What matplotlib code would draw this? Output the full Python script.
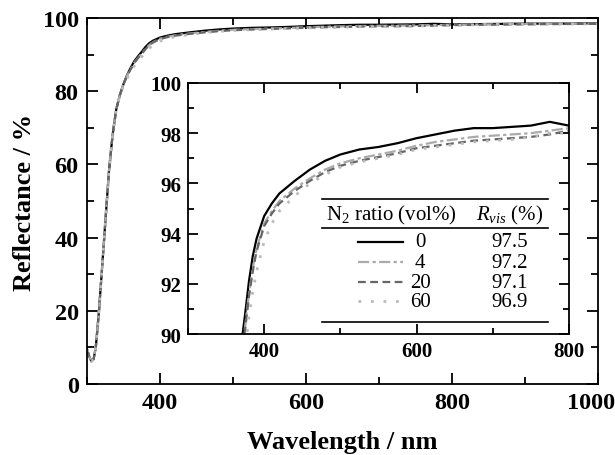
import matplotlib
matplotlib.use("Agg")
import matplotlib.pyplot as plt
from matplotlib.ticker import MultipleLocator

plt.rcParams["font.family"] = ["Liberation Serif", "DejaVu Serif"]
plt.rcParams["font.weight"] = "bold"
plt.rcParams["mathtext.fontset"] = "custom"
plt.rcParams["mathtext.rm"] = "Liberation Serif:normal"
plt.rcParams["mathtext.it"] = "Liberation Serif:italic:normal"

# wavelength grid (nm) and reflectance (%) for each N2 ratio
wavelength = [300, 303, 306, 309, 312, 316, 320, 325, 330, 335, 340, 345, 350, 355,
              360, 365, 370, 375, 380, 385, 390, 400, 410, 420, 440, 460, 480, 500,
              525, 550, 575, 600, 625, 650, 675, 700, 725, 750, 775, 800, 850, 900,
              950, 1000]
refl_0 = [9.5, 7.5, 6.2, 6.8, 10, 19, 30, 44, 58, 68, 75, 79, 82, 84.5,
          86.5, 88.3, 89.6, 90.8, 92.1, 93.1, 93.8, 94.7, 95.2, 95.6, 96.1, 96.55, 96.9, 97.15,
          97.35, 97.45, 97.6, 97.8, 97.95, 98.1, 98.2, 98.2, 98.25, 98.3, 98.45, 98.3, 98.4, 98.5,
          98.5, 98.6]
refl_4 = [9.5, 7.5, 6.2, 6.8, 10, 19, 30, 44, 58, 68, 75, 79, 82, 84.3,
          86.2, 87.9, 89.2, 90.3, 91.6, 92.6, 93.4, 94.4, 94.9, 95.3, 95.8, 96.2, 96.55, 96.8,
          97.0, 97.15, 97.3, 97.5, 97.65, 97.75, 97.85, 97.9, 97.95, 98.0, 98.1, 98.2, 98.3, 98.4,
          98.45, 98.5]
refl_20 = [9.5, 7.5, 6.2, 6.8, 10, 19, 30, 44, 58, 68, 75, 79, 82, 84.2,
           86.1, 87.8, 89.1, 90.2, 91.5, 92.5, 93.3, 94.3, 94.8, 95.2, 95.7, 96.1, 96.45, 96.7,
           96.9, 97.05, 97.2, 97.4, 97.5, 97.6, 97.7, 97.75, 97.8, 97.85, 97.95, 98.1, 98.2, 98.3,
           98.4, 98.45]
refl_60 = [9.5, 7.5, 6.2, 6.8, 10, 19, 30, 44, 58, 68, 75, 79, 81.5, 83.5,
           85.5, 87.0, 88.3, 89.4, 90.7, 91.7, 92.5, 93.7, 94.4, 94.9, 95.5, 96.0, 96.35, 96.65,
           96.85, 97.0, 97.15, 97.35, 97.45, 97.55, 97.65, 97.7, 97.75, 97.85, 98.0, 98.0, 98.3, 98.35,
           98.4, 98.4]

n2_ratio = ["0", "4", "20", "60"]
r_vis = ["97.5", "97.2", "97.1", "96.9"]
main_xticks = [400, 600, 800, 1000]

series = [refl_0, refl_4, refl_20, refl_60]
styles = [
    dict(color="black", linestyle="-", linewidth=1.6),
    dict(color="#aaaaaa", linestyle=(0, (5, 1.5, 1.5, 1.5)), linewidth=1.6),
    dict(color="#666666", linestyle=(0, (3.5, 2)), linewidth=1.6),
    dict(color="#bbbbbb", linestyle=(0, (1, 3.5)), linewidth=2.0),
]

fig = plt.figure(figsize=(6.15, 4.56), dpi=100)
ax = fig.add_axes([0.1415, 0.1557, 0.8305, 0.8023])

for y, st in zip(series, styles):
    ax.plot(wavelength, y, **st)

ax.set_xlim(300, 1000)
ax.set_ylim(0, 100)
# last label is drawn separately so it can sit a bit to the left
ax.set_xticks(main_xticks, [str(v) for v in main_xticks[:-1]] + [""])
ax.xaxis.set_minor_locator(MultipleLocator(100))
ax.yaxis.set_major_locator(MultipleLocator(20))
ax.yaxis.set_minor_locator(MultipleLocator(10))
ax.tick_params(which="both", direction="in", top=True, right=True, width=1.3)
ax.tick_params(which="major", length=8, labelsize=17.5, pad=6)
ax.tick_params(which="minor", length=5)
for sp in ax.spines.values():
    sp.set_linewidth(1.3)
ax.annotate(str(main_xticks[-1]), xy=(main_xticks[-1], 0), xycoords=("data", "axes fraction"),
            xytext=(-5, -6), textcoords="offset points", ha="center", va="top", fontsize=17.5)
ax.set_xlabel("Wavelength / nm", fontsize=19, fontweight="bold")
ax.set_ylabel("Reflectance / %", fontsize=19, fontweight="bold", va="center")
ax.xaxis.set_label_coords(0.5, -0.125)
ax.yaxis.set_label_coords(-0.123, 0.5)

# inset zoom
ins = fig.add_axes([0.3057, 0.265, 0.6193, 0.551])
for y, st in zip(series, styles):
    ins.plot(wavelength, y, **st)
ins.set_xlim(300, 800)
ins.set_ylim(90, 100)
ins.xaxis.set_major_locator(MultipleLocator(200))
ins.xaxis.set_minor_locator(MultipleLocator(100))
ins.yaxis.set_major_locator(MultipleLocator(2))
ins.yaxis.set_minor_locator(MultipleLocator(1))
ins.tick_params(which="both", direction="in", top=True, right=True, width=1.3)
ins.tick_params(which="major", length=7, labelsize=15, pad=5)
ins.tick_params(which="minor", length=4)
for sp in ins.spines.values():
    sp.set_linewidth(1.3)

# table-style legend
tr = ins.transAxes
x0, x1 = 0.352, 0.945
for yy in (0.538, 0.422, 0.048):
    ins.plot([x0, x1], [yy, yy], color="black", linewidth=1.2, transform=tr)
ins.text(0.535, 0.478, "N$_2$ ratio (vol%)", transform=tr, ha="center", va="center",
         fontsize=15, fontweight="normal")
ins.text(0.845, 0.478, "$\\mathit{R}_{vis}$ (%)", transform=tr, ha="center", va="center",
         fontsize=15, fontweight="normal")
row_y = [0.367, 0.287, 0.207, 0.131]
for yy, st, n, r in zip(row_y, styles, n2_ratio, r_vis):
    ins.plot([0.446, 0.564], [yy, yy], transform=tr, **st)
    ins.text(0.61, yy, n, transform=tr, ha="center", va="center", fontsize=15, fontweight="normal")
    ins.text(0.845, yy, r, transform=tr, ha="center", va="center", fontsize=15, fontweight="normal")

fig.savefig("out.png", dpi=100)
